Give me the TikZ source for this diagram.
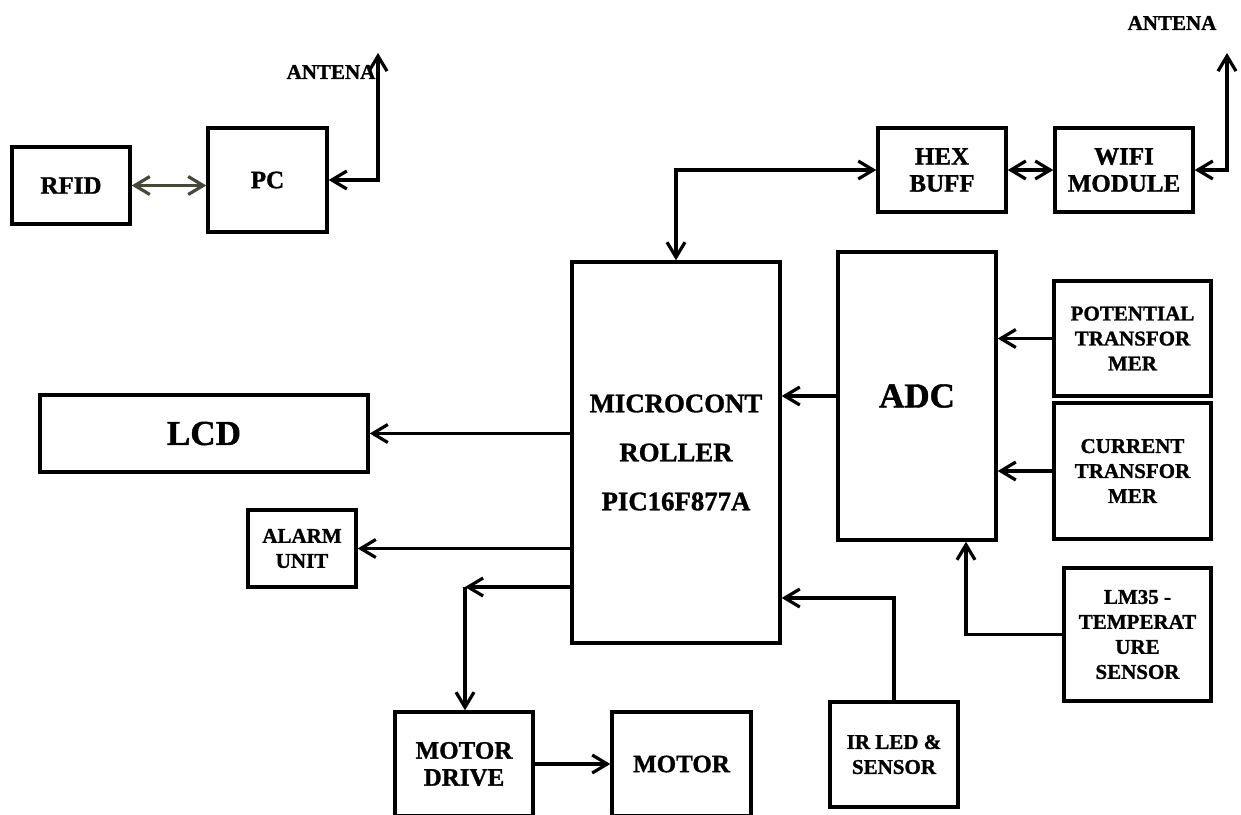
\documentclass[tikz,border=0pt]{standalone}
\usepackage{fontspec}
\setmainfont{Liberation Serif}[BoldFeatures={FakeBold=1.2}]
\usetikzlibrary{arrows.meta}
\definecolor{arrgray}{RGB}{72,72,58}
\tikzset{
  box/.style={draw, line width=1.7pt, inner sep=0pt, align=center, font=\bfseries\fontsize{10.5}{12.5}\selectfont},
  mid/.style={font=\bfseries\fontsize{12.5}{13.5}\selectfont},
  big/.style={font=\bfseries\fontsize{17.5}{20}\selectfont},
  lbl/.style={inner sep=0pt, font=\bfseries\fontsize{10.5}{12.5}\selectfont},
  conn/.style={line width=1.6pt, arrows={-Straight Barb[length=7.5pt,width=9pt]}},
  bconn/.style={line width=1.6pt, arrows={Straight Barb[length=7.5pt,width=9pt]-Straight Barb[length=7.5pt,width=9pt]}},
}
\begin{document}
\begin{tikzpicture}[x=0.5pt,y=-0.5pt]
\useasboundingbox (0,0) rectangle (1241,814);
\clip (0,0) rectangle (1241,814);
% boxes
\node[box,mid,minimum width=59pt,minimum height=38.5pt] (rfid) at (71,185.5) {RFID};
\node[box,mid,minimum width=59.5pt,minimum height=52pt] (pc) at (267.5,180) {PC};
\node[box,mid,minimum width=64pt,minimum height=42pt] (hex) at (942,170) {HEX\\BUFF};
\node[box,mid,minimum width=69pt,minimum height=42pt] (wifi) at (1124,170) {WIFI\\MODULE};
\node[box,font=\bfseries\fontsize{13.4}{24.5}\selectfont,minimum width=104pt,minimum height=190.5pt] (mcu) at (676,452.5) {MICROCONT\\ROLLER\\PIC16F877A};
\node[box,big,minimum width=79pt,minimum height=144pt] (adc) at (917,396) {ADC};
\node[box,minimum width=78.5pt,minimum height=57.5pt] (pot) at (1132.5,338.5) {POTENTIAL\\TRANSFOR\\MER};
\node[box,minimum width=78.5pt,minimum height=68pt] (cur) at (1132.5,471) {CURRENT\\TRANSFOR\\MER};
\node[box,minimum width=73.5pt,minimum height=66.5pt] (lm) at (1137.5,634.5) {LM35 -\\TEMPERAT\\URE\\SENSOR};
\node[box,big,minimum width=164pt,minimum height=38.5pt] (lcd) at (204,433.5) {LCD};
\node[box,minimum width=54pt,minimum height=38.5pt] (alarm) at (302,548.5) {ALARM\\UNIT};
\node[box,mid,minimum width=69pt,minimum height=52pt] (md) at (464,764) {MOTOR\\DRIVE};
\node[box,mid,minimum width=69.5pt,minimum height=52pt] (motor) at (681.5,764) {MOTOR};
\node[box,minimum width=64pt,minimum height=52.5pt] (ir) at (894,754.5) {IR LED \&\\SENSOR};
% antenna labels
\node[lbl] (antA) at (331,72) {ANTENA};
\node[lbl] (antB) at (1172,23) {ANTENA};
\coordinate (ant1) at (378,53);
\coordinate (ant2) at (1227,53);
% connectors
\draw[bconn,draw=arrgray] (rfid.east) -- (rfid.east -| pc.west);
\draw[bconn] (pc.east) -| (ant1);
\draw[bconn] (hex) -- (wifi);
\draw[bconn] (wifi.east) -| (ant2);
\draw[bconn] (hex.west) -| (mcu.north);
\draw[conn] (adc.west) -- (adc.west -| mcu.east);
\draw[conn] (pot.west) -- (pot.west -| adc.east);
\draw[conn] (cur.west) -- (cur.west -| adc.east);
\draw[conn] (lm.west) -| ([xshift=24.5pt]adc.south);
\draw[conn] (lcd.east -| mcu.west) -- (lcd.east);
\draw[conn] (alarm.east -| mcu.west) -- (alarm.east);
\coordinate (mc) at (465,587);
\draw[conn] (mc -| mcu.west) -- (mc);
\draw[conn] (mc) -- (mc |- md.north);
\draw[conn] (md.east) -- (motor.west);
\coordinate (irc) at (894,598);
\draw[conn] (ir.north) |- (irc -| mcu.east);
\end{tikzpicture}
\end{document}
